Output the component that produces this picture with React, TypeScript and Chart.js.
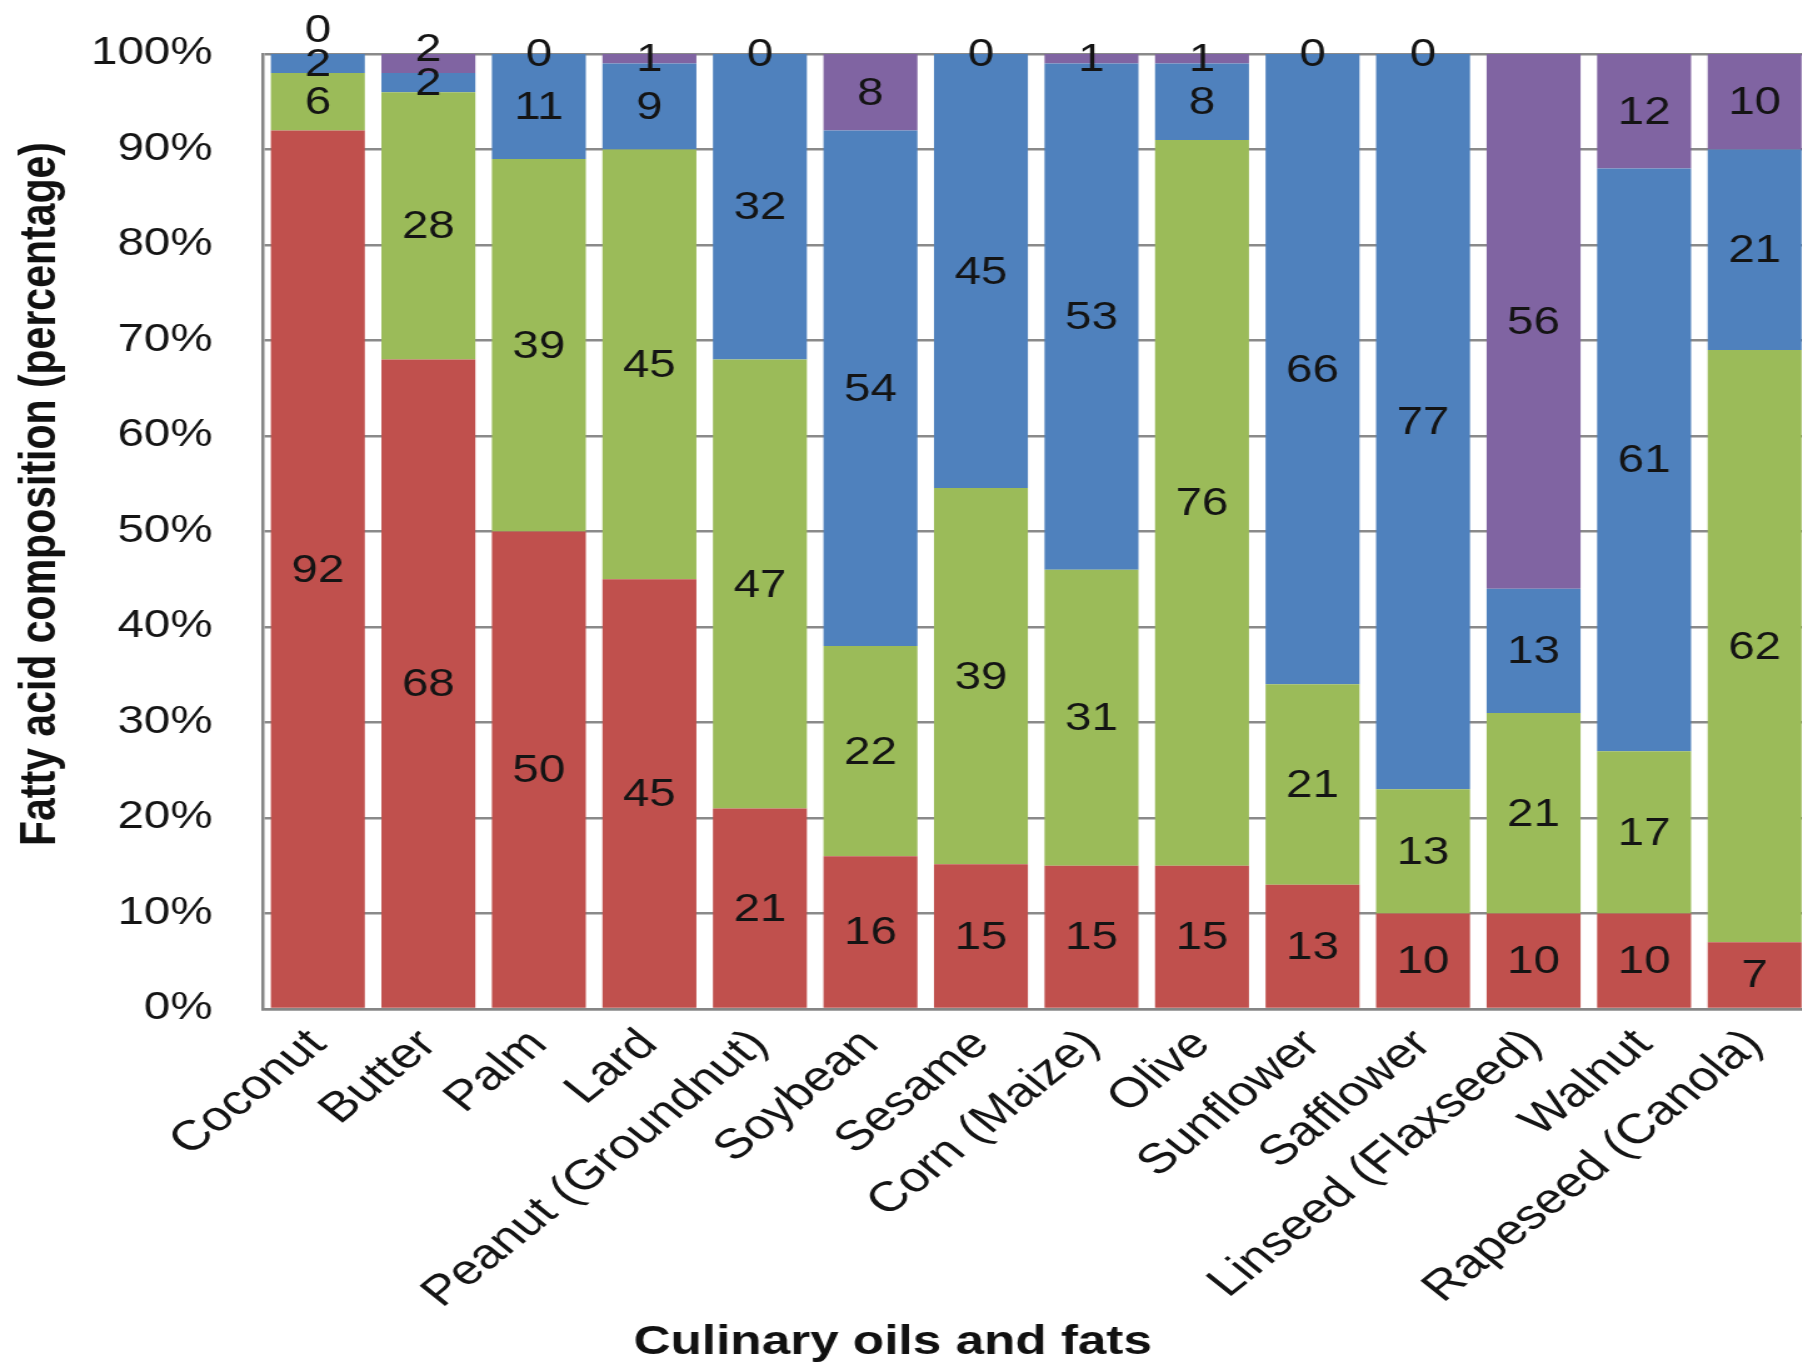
import React, { useEffect, useRef } from 'react';
import { Chart, registerables } from 'chart.js';

Chart.register(...registerables);

// ---------- data ----------
const categories = [
  'Coconut',
  'Butter',
  'Palm',
  'Lard',
  'Peanut (Groundnut)',
  'Soybean',
  'Sesame',
  'Corn (Maize)',
  'Olive',
  'Sunflower',
  'Safflower',
  'Linseed (Flaxseed)',
  'Walnut',
  'Rapeseed (Canola)',
];
const saturated = [92, 68, 50, 45, 21, 16, 15, 15, 15, 13, 10, 10, 10, 7];
const monounsaturated = [6, 28, 39, 45, 47, 22, 39, 31, 76, 21, 13, 21, 17, 62];
const omega6 = [2, 2, 11, 9, 32, 54, 45, 53, 8, 66, 77, 13, 61, 21];
const omega3 = [0, 2, 0, 1, 0, 8, 0, 1, 1, 0, 0, 56, 12, 10];
const seriesNames = ['Saturated', 'Monounsaturated', 'Omega-6 polyunsaturated', 'Omega-3 polyunsaturated'];
const seriesColors = ['#C0504D', '#9BBB59', '#4F81BD', '#8064A2'];
const yTickValues = [0, 10, 20, 30, 40, 50, 60, 70, 80, 90, 100];
const xTitle = 'Culinary oils and fats';
const yTitle = 'Fatty acid composition (percentage)';

const rawSeries = [saturated, monounsaturated, omega6, omega3];
const totals = categories.map((_, i) => rawSeries.reduce((s, arr) => s + arr[i], 0));
const percentSeries = rawSeries.map((arr) => arr.map((v, i) => (v / totals[i]) * 100));

// ---------- layout (drawing space is stretched horizontally by SX via CSS) ----------
const W = 1450;
const H = 1365;
const SX = 1.25;
const FONT = '"Liberation Sans", Arial, Helvetica, sans-serif';
const LABEL_GAP = 34;

const segLabelPlugin = {
  id: 'segLabels',
  afterDatasetsDraw(chart: any) {
    const ctx = chart.ctx;
    ctx.save();
    ctx.font = `38px ${FONT}`;
    ctx.fillStyle = '#141414';
    ctx.textAlign = 'center';
    ctx.textBaseline = 'middle';
    const n = chart.data.labels.length;
    for (let i = 0; i < n; i++) {
      let prevY = Infinity;
      chart.data.datasets.forEach((ds: any, di: number) => {
        const meta = chart.getDatasetMeta(di);
        const el = meta.data[i];
        if (!el) return;
        const p = el.getProps(['x', 'y', 'base'], true);
        let cy = (p.y + p.base) / 2;
        if (cy > prevY - LABEL_GAP) cy = prevY - LABEL_GAP;
        ctx.fillText(String(rawSeries[di][i]), p.x, cy + 2);
        prevY = cy;
      });
    }
    ctx.restore();
  },
};

const titlesPlugin = {
  id: 'axisTitles',
  afterDraw(chart: any) {
    const ctx = chart.ctx;
    ctx.save();
    ctx.fillStyle = '#111';
    ctx.font = `bold 41px ${FONT}`;
    ctx.textAlign = 'center';
    ctx.textBaseline = 'middle';
    ctx.fillText(xTitle, 714, 1343);
    ctx.translate(33, 494);
    ctx.rotate(-Math.PI / 2);
    ctx.fillText(yTitle, 0, 0);
    ctx.restore();
  },
};

const bgPlugin = {
  id: 'bg',
  beforeDraw(chart: any) {
    const ctx = chart.ctx;
    ctx.save();
    ctx.fillStyle = '#ffffff';
    ctx.fillRect(0, 0, chart.width, chart.height);
    ctx.restore();
  },
};

export default function App() {
  const canvasRef = useRef<HTMLCanvasElement | null>(null);

  useEffect(() => {
    const canvas = canvasRef.current;
    if (!canvas) return;
    const chart = new Chart(canvas, {
      type: 'bar',
      data: {
        labels: categories,
        datasets: percentSeries.map((arr, k) => ({
          label: seriesNames[k],
          data: arr,
          backgroundColor: seriesColors[k],
          borderWidth: 0,
          categoryPercentage: 1,
          barPercentage: 0.85,
        })),
      },
      options: {
        responsive: false,
        animation: false,
        devicePixelRatio: 1,
        layout: { padding: { top: 54, left: 0, right: 2, bottom: 0 } },
        plugins: {
          legend: { display: false },
          tooltip: { enabled: false },
          title: { display: false },
        },
        scales: {
          x: {
            stacked: true,
            grid: { display: false, drawTicks: false },
            border: { display: true, color: '#868686', width: 2.5 },
            ticks: {
              autoSkip: false,
              minRotation: 45,
              maxRotation: 45,
              padding: 11,
              color: '#141414',
              font: { family: FONT, size: 42 },
            },
            afterFit(scale: any) {
              scale.height = H - 1009;
            },
          },
          y: {
            stacked: true,
            min: 0,
            max: 100,
            afterBuildTicks(scale: any) {
              scale.ticks = yTickValues.map((v) => ({ value: v }));
            },
            grid: {
              color: '#8a8a8a',
              lineWidth: 2.5,
              drawTicks: true,
              tickLength: 40,
              tickColor: 'rgba(0,0,0,0)',
            },
            border: { display: true, color: '#868686', width: 2.5 },
            ticks: {
              padding: 0,
              color: '#141414',
              font: { family: FONT, size: 38 },
              callback: (v: any) => `${v}%`,
            },
            afterFit(scale: any) {
              scale.width = 210;
            },
          },
        },
      },
      plugins: [bgPlugin, segLabelPlugin, titlesPlugin],
    });
    canvas.style.width = `${W * SX}px`;
    canvas.style.height = `${H}px`;
    return () => chart.destroy();
  }, []);

  return (
    <div
      style={{
        position: 'fixed',
        left: 0,
        top: 0,
        width: '100vw',
        height: '100vh',
        overflow: 'hidden',
        background: '#fff',
      }}
    >
      <canvas
        ref={canvasRef}
        width={W}
        height={H}
        style={{ display: 'block', width: `${W * SX}px`, height: `${H}px` }}
      />
    </div>
  );
}
